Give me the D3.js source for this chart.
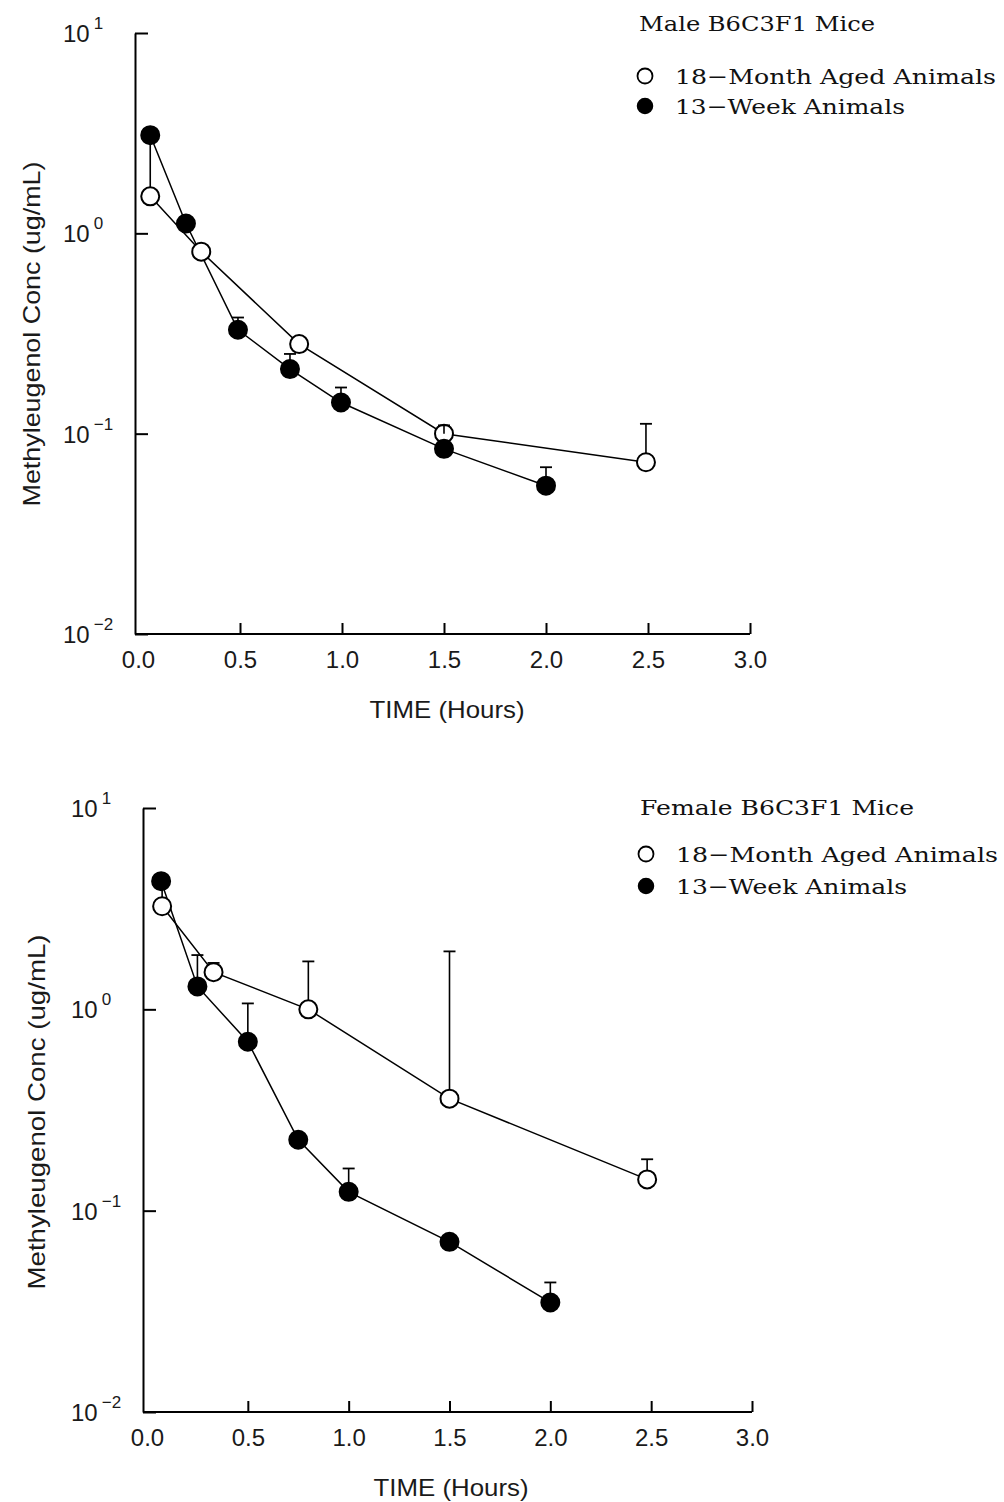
<!DOCTYPE html>
<html>
<head>
<meta charset="utf-8">
<script src="https://cdn.jsdelivr.net/npm/d3@7"></script>
<style>
  html, body { margin: 0; padding: 0; background: #fff; }
  svg { display: block; }
</style>
</head>
<body>
<svg id="chart" width="1004" height="1502"></svg>
<script>
// ---------- DATA ----------
const xTicks = [0, 0.5, 1.0, 1.5, 2.0, 2.5, 3.0];
const yTicks = [10, 1, 0.1, 0.01];
const yTickExp = ["1", "0", "\u22121", "\u22122"];

const legendAged = "18\u2212Month Aged Animals";
const legendYoung = "13\u2212Week Animals";
const maleTitle = "Male B6C3F1 Mice";
const femaleTitle = "Female B6C3F1 Mice";
const xTitle = "TIME (Hours)";
const yTitle = "Methyleugenol Conc (ug/mL)";

// Male panel
const maleAgedTime = [0.06, 0.31, 0.79, 1.50, 2.49];
const maleAgedConc = [1.53, 0.81, 0.28, 0.10, 0.072];
const maleAgedUpper = [3.0, null, null, 0.11, 0.112];
const maleYoungTime = [0.06, 0.235, 0.49, 0.745, 0.995, 1.50, 2.0];
const maleYoungConc = [3.09, 1.12, 0.33, 0.21, 0.143, 0.084, 0.055];
const maleYoungUpper = [null, null, 0.38, 0.25, 0.17, null, 0.068];

// Female panel
const femAgedTime = [0.075, 0.33, 0.80, 1.50, 2.48];
const femAgedConc = [3.25, 1.53, 1.0, 0.36, 0.143];
const femAgedUpper = [4.2, 1.7, 1.73, 1.94, 0.18];
const femYoungTime = [0.07, 0.25, 0.50, 0.75, 1.0, 1.5, 2.0];
const femYoungConc = [4.33, 1.30, 0.69, 0.225, 0.124, 0.070, 0.035];
const femYoungUpper = [null, 1.86, 1.07, null, 0.162, null, 0.044];

// ---------- DRAW ----------
const svg = d3.select("#chart");
const TICKFONT = "'Liberation Sans', Arial, sans-serif";
const LEGFONT = "'DejaVu Serif', 'Liberation Serif', serif";

function panel(cfg) {
  const g = svg.append("g");
  const x = d3.scaleLinear().domain([0, 3]).range(cfg.xRange);
  const y = d3.scaleLog().domain([0.01, 10]).range(cfg.yRange);

  // y axis
  const yAx = g.append("g")
    .attr("transform", `translate(${cfg.yAxisX},0)`)
    .call(d3.axisLeft(y).tickValues(yTicks).tickSize(-13).tickSizeOuter(0).tickFormat(""));
  yAx.select(".domain").attr("stroke", "#000").attr("stroke-width", 2);
  yAx.selectAll(".tick line").attr("stroke", "#000").attr("stroke-width", 2);

  // y tick labels 10^n
  yTicks.forEach((v, i) => {
    const t = g.append("text")
      .attr("x", cfg.yAxisX - 72)
      .attr("y", y(v) + 9)
      .attr("font-family", TICKFONT)
      .attr("font-size", 24)
      .attr("fill", "#1a1a1a");
    t.append("tspan").text("10");
    t.append("tspan").attr("dx", 4).attr("dy", -13).attr("font-size", 17).text(yTickExp[i]);
  });

  // x axis
  const xAx = g.append("g")
    .attr("transform", `translate(0,${cfg.yRange[0]})`)
    .call(d3.axisBottom(x).tickValues(xTicks).tickSize(-11).tickSizeOuter(0)
      .tickPadding(17).tickFormat(d3.format(".1f")));
  xAx.select(".domain").attr("stroke", "#000").attr("stroke-width", 2)
    .attr("d", `M${cfg.yAxisX},0H${x(3)}`);
  xAx.selectAll(".tick line").attr("stroke", "#000").attr("stroke-width", 2)
    .filter(d => d === 0).remove();
  xAx.selectAll(".tick text")
    .attr("font-family", TICKFONT).attr("font-size", 24).attr("fill", "#1a1a1a");

  // axis titles
  g.append("text")
    .attr("x", cfg.xTitlePos[0]).attr("y", cfg.xTitlePos[1])
    .attr("text-anchor", "middle")
    .attr("font-family", TICKFONT).attr("font-size", 24).attr("fill", "#1a1a1a")
    .attr("textLength", 155).attr("lengthAdjust", "spacingAndGlyphs")
    .text(xTitle);
  g.append("text")
    .attr("transform", `translate(${cfg.yTitlePos[0]},${cfg.yTitlePos[1]}) rotate(-90)`)
    .attr("text-anchor", "middle")
    .attr("font-family", TICKFONT).attr("font-size", 24).attr("fill", "#1a1a1a")
    .attr("textLength", cfg.yTitleLen).attr("lengthAdjust", "spacingAndGlyphs")
    .text(yTitle);

  const R = 9;
  const line = d3.line().x(d => x(d.t)).y(d => y(d.c));

  function series(times, conc, upper, filled) {
    const pts = times.map((t, i) => ({ t, c: conc[i], u: upper[i] }));
    g.append("path").datum(pts)
      .attr("d", line).attr("fill", "none")
      .attr("stroke", "#000").attr("stroke-width", 1.5);
    return { pts, filled };
  }

  function marks(s) {
    g.selectAll(null).data(s.pts).enter().append("circle")
      .attr("cx", d => x(d.t)).attr("cy", d => y(d.c)).attr("r", R)
      .attr("fill", s.filled ? "#000" : "#fff")
      .attr("stroke", "#000").attr("stroke-width", 2);
  }

  function errs(s) {
    s.pts.filter(d => d.u != null).forEach(d => {
      const cx = x(d.t), cy = y(d.c), yu = y(d.u);
      let y0 = cy - R;
      if (yu > y0) y0 = cy;
      g.append("line").attr("x1", cx).attr("x2", cx).attr("y1", y0).attr("y2", yu)
        .attr("stroke", "#000").attr("stroke-width", 1.6);
      g.append("line").attr("x1", cx - 6).attr("x2", cx + 6).attr("y1", yu).attr("y2", yu)
        .attr("stroke", "#000").attr("stroke-width", 1.8);
    });
  }

  const sAged = series(cfg.agedT, cfg.agedC, cfg.agedU, false);
  const sYoung = series(cfg.youngT, cfg.youngC, cfg.youngU, true);
  marks(sAged);
  errs(sAged);
  marks(sYoung);
  errs(sYoung);

  // legend
  const L = cfg.legend;
  g.append("text").attr("x", L.titleX).attr("y", L.titleY)
    .attr("font-family", LEGFONT).attr("font-size", 21).attr("fill", "#111")
    .attr("textLength", L.titleLen).attr("lengthAdjust", "spacingAndGlyphs")
    .text(cfg.title);
  g.append("circle").attr("cx", L.markX).attr("cy", L.row1Y - 8).attr("r", 7.5)
    .attr("fill", "#fff").attr("stroke", "#000").attr("stroke-width", 1.8);
  g.append("text").attr("x", L.textX).attr("y", L.row1Y)
    .attr("font-family", LEGFONT).attr("font-size", 21).attr("fill", "#111")
    .attr("textLength", L.len1).attr("lengthAdjust", "spacingAndGlyphs")
    .text(legendAged);
  g.append("circle").attr("cx", L.markX).attr("cy", L.row2Y - 8).attr("r", 7.5)
    .attr("fill", "#000").attr("stroke", "#000").attr("stroke-width", 1.5);
  g.append("text").attr("x", L.textX).attr("y", L.row2Y)
    .attr("font-family", LEGFONT).attr("font-size", 21).attr("fill", "#111")
    .attr("textLength", L.len2).attr("lengthAdjust", "spacingAndGlyphs")
    .text(legendYoung);
}

panel({
  xRange: [138, 750], yRange: [634, 33], yAxisX: 135,
  xTitlePos: [447, 718], yTitlePos: [40, 334], yTitleLen: 345,
  title: maleTitle,
  agedT: maleAgedTime, agedC: maleAgedConc, agedU: maleAgedUpper,
  youngT: maleYoungTime, youngC: maleYoungConc, youngU: maleYoungUpper,
  legend: { titleX: 639, titleY: 31, titleLen: 236, markX: 645, textX: 675,
            row1Y: 84, len1: 321, row2Y: 114, len2: 230 }
});

panel({
  xRange: [147, 752], yRange: [1412, 808], yAxisX: 143,
  xTitlePos: [451, 1496], yTitlePos: [45, 1112], yTitleLen: 355,
  title: femaleTitle,
  agedT: femAgedTime, agedC: femAgedConc, agedU: femAgedUpper,
  youngT: femYoungTime, youngC: femYoungConc, youngU: femYoungUpper,
  legend: { titleX: 640, titleY: 815, titleLen: 274, markX: 646, textX: 676,
            row1Y: 862, len1: 322, row2Y: 894, len2: 231 }
});
</script>
</body>
</html>
